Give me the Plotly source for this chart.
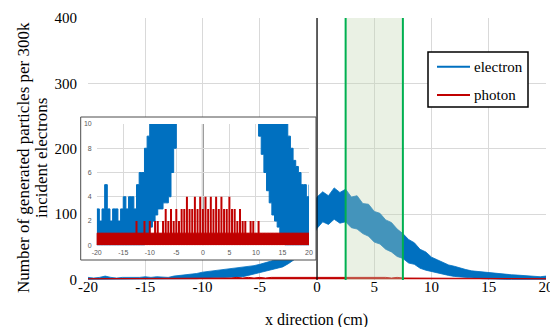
import plotly.graph_objects as go

# ---------------- data ----------------
# bin centres along x (cm), 0.5 cm apart from -20 to 20
x_cm = [round(-20 + 0.5 * i, 1) for i in range(81)]

# electron counts per bin: local minimum and maximum of the noisy histogram
electron_lo = [0, 0, 0, 0, 0, 0, 0, 0, 0, 0,
               0, 0, 0, 0, 0, 0, 0, 0, 1, 1,
               1.5, 2, 2.5, 3, 3, 3.5, 3.5, 4, 6, 8,
               10.5, 12, 14, 16, 19, 24, 30, 38, 48, 62,
               78, 88, 84, 92, 86, 88, 79, 77, 70, 66,
               57, 54, 46, 42, 35, 32, 25, 23, 17, 14,
               12, 9, 7.5, 6, 4.5, 3.5, 2.5, 2, 1.5, 1,
               0.5, 0, 0, 0, 0, 0, 0, 0, 0, 0, 0]
electron_hi = [3, 2, 3, 5, 3, 2, 3, 3, 2, 3,
               4, 3, 4, 4, 3, 5, 6, 6, 8, 9,
               11, 12, 13, 14, 15, 16, 17, 18, 20, 21,
               23, 25, 28, 31, 36, 43, 52, 64, 80, 100,
               126, 134, 128, 140, 133, 138, 126, 128, 116, 115,
               104, 101, 91, 87, 77, 70, 61, 56, 46, 42,
               34, 30, 26, 22, 20, 17, 15, 13, 12, 11,
               11, 10, 9, 8, 7, 6.5, 6, 5, 5, 4, 5]
# photon counts per bin: spike height
photon_peak = [1, 1, 1, 1, 1, 1, 1, 1, 1, 1,
               1, 1, 1, 1, 1, 2, 1, 1, 2, 1,
               2, 1, 2, 2, 1, 2, 3, 2, 3, 2,
               3, 2, 3, 3, 4, 3, 3, 4, 3, 4,
               3, 4, 3, 4, 3, 4, 3, 4, 3, 3,
               4, 3, 3, 2, 3, 2, 2, 1, 2, 2,
               1, 2, 1, 1, 1, 1, 1, 1, 1, 1,
               1, 1, 1, 1, 1, 1, 1, 1, 1, 1, 1]

series_names = ["electron", "photon"]
series_colors = ["#0070C0", "#C00000"]
main_x_ticks = [-20, -15, -10, -5, 0, 5, 10, 15, 20]
main_x_labels = ["-20", "-15", "-10", "-5", "0", "5", "10", "15", "20"]
main_y_ticks = [0, 100, 200, 300, 400]
inset_y_ticks = [0, 2, 4, 6, 8, 10]
beam_x = 0
shaded_band = [2.5, 7.5]
y_title_lines = ["Number of generated particles per 300k", "incident electrons"]
x_title = "x direction (cm)"

# ---------------- layout geometry ----------------
W, H = 550, 327
ML, MR, MT, MB = 70, 4, 18, 47
PW, PH = W - ML - MR, H - MT - MB


def px(v):
    return (v - ML) / PW


def py(v):
    return (H - MB - v) / PH


SERIF = "Liberation Serif"
SANS = "Liberation Sans"

fig = go.Figure()

# ---- main chart ----
fig.add_trace(go.Scatter(x=x_cm, y=electron_lo, mode="lines",
                         line=dict(color=series_colors[0], width=0.8),
                         showlegend=False, hoverinfo="skip"))
fig.add_trace(go.Scatter(x=x_cm, y=electron_hi, mode="lines", fill="tonexty",
                         fillcolor=series_colors[0],
                         line=dict(color=series_colors[0], width=0.8),
                         name=series_names[0], showlegend=False))
fig.add_trace(go.Scatter(x=x_cm, y=photon_peak, mode="lines", fill="tozeroy",
                         fillcolor=series_colors[1],
                         line=dict(color=series_colors[1], width=1),
                         name=series_names[1], showlegend=False))

# ---- white box behind the inset (own subplot -> own background) ----
fig.add_trace(go.Scatter(x=[0.5], y=[0.5], mode="markers", marker=dict(opacity=0),
                         xaxis="x2", yaxis="y2", showlegend=False, hoverinfo="skip"))

# ---- inset: zoom of the low counts ----
fig.add_trace(go.Scatter(x=x_cm, y=electron_lo, mode="lines", line_shape="hv",
                         line=dict(color=series_colors[0], width=1),
                         xaxis="x3", yaxis="y3", showlegend=False, hoverinfo="skip"))
fig.add_trace(go.Scatter(x=x_cm, y=electron_hi, mode="lines", line_shape="hv",
                         fill="tonexty", fillcolor=series_colors[0],
                         line=dict(color=series_colors[0], width=1),
                         xaxis="x3", yaxis="y3", showlegend=False, hoverinfo="skip"))
fig.add_trace(go.Scatter(x=x_cm, y=[min(p, 1) for p in photon_peak], mode="lines",
                         fill="tozeroy", fillcolor=series_colors[1], line_shape="hv",
                         line=dict(color=series_colors[1], width=1),
                         xaxis="x3", yaxis="y3", showlegend=False, hoverinfo="skip"))
rx, ry = [], []
for x, p in zip(x_cm, photon_peak):
    rx += [x, x, None]
    ry += [0, p, None]
fig.add_trace(go.Scatter(x=rx, y=ry, mode="lines", xaxis="x3", yaxis="y3",
                         line=dict(color=series_colors[1], width=2),
                         showlegend=False, hoverinfo="skip"))

grid = "#d9d9d9"
box_dom_x = [px(80.7), px(316)]
box_dom_y = [py(260), py(117)]
inset_dom_x = [px(96.7), px(309)]
inset_dom_y = [py(245.3), py(124)]

fig.update_layout(
    width=W, height=H, template="none",
    margin=dict(l=ML, r=MR, t=MT, b=MB),
    paper_bgcolor="white", plot_bgcolor="white",
    font=dict(family=SERIF),
    showlegend=False,
    xaxis=dict(domain=[px(88), 1], range=[-20, 20], tickvals=main_x_ticks,
               ticktext=main_x_labels, ticklabeloverflow="allow",
               showgrid=True, gridcolor=grid, gridwidth=1, zeroline=False,
               showline=False, ticks="", ticklabelstandoff=-4,
               tickfont=dict(family=SERIF, size=15, color="black"),
               fixedrange=True),
    yaxis=dict(range=[-1, 400], tickvals=main_y_ticks,
               showgrid=True, gridcolor=grid, gridwidth=1, zeroline=False,
               showline=False, ticks="", ticklabelstandoff=10,
               tickfont=dict(family=SERIF, size=15, color="black"), fixedrange=True),
    xaxis2=dict(domain=box_dom_x, range=[0, 1], visible=False, anchor="y2", fixedrange=True),
    yaxis2=dict(domain=box_dom_y, range=[0, 1], visible=False, anchor="x2", fixedrange=True),
    xaxis3=dict(domain=inset_dom_x, range=[-20, 20], tickvals=main_x_ticks,
                ticktext=main_x_labels, anchor="y3",
                showgrid=True, gridcolor=grid, zeroline=False, showline=False, ticks="",
                ticklabelstandoff=2,
                tickfont=dict(family=SANS, size=7, color="#595959"), fixedrange=True),
    yaxis3=dict(domain=inset_dom_y, range=[0, 10], tickvals=inset_y_ticks, anchor="x3",
                showgrid=True, gridcolor=grid, zeroline=False, showline=False, ticks="",
                ticklabelstandoff=4,
                tickfont=dict(family=SANS, size=7, color="#595959"), fixedrange=True),
)

shapes = [
    # inset: gray line at x = 0 behind the data
    dict(type="line", xref="x3", yref="y3", x0=beam_x, x1=beam_x, y0=0, y1=10,
         line=dict(color="#8c8c8c", width=2), layer="below"),
    # main: shaded detector band and its borders
    dict(type="rect", xref="x", yref="y", x0=shaded_band[0], x1=shaded_band[1], y0=-1, y1=400,
         fillcolor="rgba(196,215,178,0.35)", line=dict(width=0), layer="above"),
    dict(type="line", xref="x", yref="y", x0=beam_x, x1=beam_x, y0=-1, y1=400,
         line=dict(color="black", width=1.2), layer="above"),
    dict(type="line", xref="x", yref="y", x0=shaded_band[0], x1=shaded_band[0], y0=-1, y1=400,
         line=dict(color="#00B050", width=2), layer="above"),
    dict(type="line", xref="x", yref="y", x0=shaded_band[1], x1=shaded_band[1], y0=-1, y1=400,
         line=dict(color="#00B050", width=2), layer="above"),
    # inset frame
    dict(type="rect", xref="paper", yref="paper", x0=box_dom_x[0], x1=box_dom_x[1],
         y0=box_dom_y[0], y1=box_dom_y[1], line=dict(color="#4d4d4d", width=1),
         fillcolor="rgba(0,0,0,0)", layer="above"),
    # legend box
    dict(type="rect", xref="paper", yref="paper", x0=px(428), x1=px(528), y0=py(107), y1=py(52),
         line=dict(color="black", width=1.5), fillcolor="white", layer="above"),
]
legend_y = [py(66.7), py(95)]
for name, col, ly in zip(series_names, series_colors, legend_y):
    shapes.append(dict(type="line", xref="paper", yref="paper", x0=px(437), x1=px(470),
                       y0=ly, y1=ly, line=dict(color=col, width=2), layer="above"))
    fig.add_annotation(x=px(472), y=ly, xref="paper", yref="paper", text=name,
                       showarrow=False, xanchor="left", yanchor="middle",
                       font=dict(family=SERIF, size=15, color="black"))
fig.update_layout(shapes=shapes)

for line_text, lx in zip(y_title_lines, [23, 41]):
    fig.add_annotation(x=px(lx), y=py(158), xref="paper", yref="paper",
                       text=line_text, textangle=-90, showarrow=False,
                       xanchor="center", yanchor="middle",
                       font=dict(family=SERIF, size=17, color="black"))
fig.add_annotation(x=px(316), y=py(320), xref="paper", yref="paper",
                   text=x_title, showarrow=False,
                   xanchor="center", yanchor="middle",
                   font=dict(family=SERIF, size=16, color="black"))

fig.write_html("out.html", config={"displayModeBar": False},
               post_script="document.body.style.margin='0';document.body.style.padding='0';")
